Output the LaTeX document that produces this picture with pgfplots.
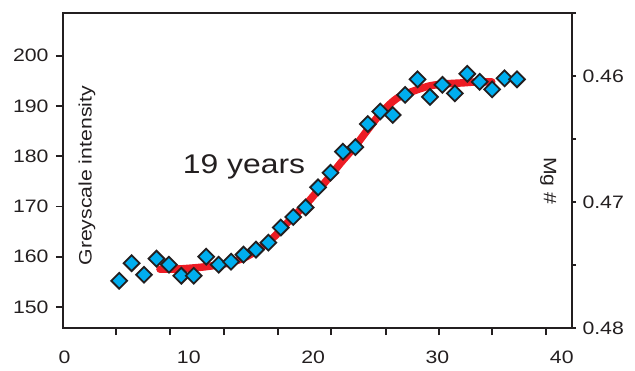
\documentclass[border=0pt]{standalone}
\usepackage{pgfplots}
\pgfplotsset{compat=1.18}
\usepackage{fontspec}
\setmainfont{Liberation Sans}[FakeStretch=1.18]
\definecolor{axcol}{HTML}{231F20}
\definecolor{dcyan}{HTML}{00AEEF}
\definecolor{dred}{HTML}{ED1C24}
\begin{document}
\begin{tikzpicture}
\useasboundingbox (-63pt,-42pt) rectangle (572pt,328pt);
\begin{axis}[
  scale only axis, width=508.7pt, height=315pt,
  xmin=-0.12, xmax=40.8, ymin=145.8, ymax=208.5,
  clip=false,
  axis line style={axcol, line width=1.8pt},
  tick style={axcol, line width=1.8pt},
  tick align=outside, major tick length=7pt,
  xtick pos=bottom, ytick pos=left,
  xtick={4.14,8.49,12.83,17.18,21.44,25.87,30.13,34.4,38.74},
  xticklabels={},
  extra x ticks={0,10,20,30,40},
  extra x tick labels={0,10,20,30,40},
  extra x tick style={major tick length=0pt},
  xticklabel style={yshift=-19pt},
  ytick={150,160,170,180,190,200},
  yticklabel style={xshift=-4pt},
  ticklabel style={font=\fontsize{18pt}{20pt}\selectfont, text=axcol},
  /pgf/number format/assume math mode=true,
]
\addplot[only marks, mark=square*, mark size=5.6pt,
  mark options={rotate=45, fill=dcyan, draw=axcol, line width=1.8pt}]
coordinates {
(4.4,155.2) (5.4,158.7) (6.4,156.4) (7.4,159.6) (8.4,158.4) (9.4,156.2)
(10.4,156.2) (11.4,160.0) (12.4,158.4) (13.4,159.0) (14.4,160.4) (15.4,161.4)
(16.4,162.8) (17.4,165.8) (18.4,167.9) (19.4,169.8) (20.4,173.8) (21.4,176.7)
(22.4,180.9) (23.4,181.8) (24.4,186.4) (25.4,188.9) (26.4,188.2)
};
\addplot[dred, line width=7.5pt, smooth, line cap=round] coordinates {
(7.68,157.5) (8.5,157.5) (9.56,157.6) (11,157.9) (12.24,158.3) (13.3,158.8)
(14.38,159.7) (15.46,161.2) (16.8,163.8) (18.14,167.3) (19.49,170.6)
(20.4,173.2) (21.36,176.0) (22.2,178.6) (22.97,180.8) (23.7,183.0)
(24.31,185.0) (25.5,188.7) (26.73,191.5) (28,192.9) (29.4,194.0)
(30.7,194.4) (32.08,194.6) (33.2,194.8) (34.37,194.8)
};
\addplot[only marks, mark=square*, mark size=5.6pt,
  mark options={rotate=45, fill=dcyan, draw=axcol, line width=1.8pt}]
coordinates {
(27.4,192.2) (28.4,195.3) (29.4,191.8) (30.4,194.2) (31.4,192.5)
(32.4,196.4) (33.4,194.8) (34.4,193.3) (35.4,195.5) (36.4,195.3)
};
\node[rotate=90, font=\fontsize{18pt}{20pt}\selectfont, text=axcol]
  at (axis cs:1.81,176.1) {Greyscale intensity};
\node[rotate=-90, font=\fontsize{18pt}{20pt}\selectfont, text=axcol]
  at (axis cs:38.9,175.1) {Mg \#};
\node[anchor=base, font=\fontsize{27pt}{30pt}\selectfont, text=axcol]
  at (axis cs:14.44,176.6) {19 years};
\end{axis}
\begin{axis}[
  scale only axis, width=508.7pt, height=315pt,
  xmin=-0.12, xmax=40.8, ymin=0.455, ymax=0.48,
  y dir=reverse,
  axis x line=none, axis y line*=right,
  axis line style={axcol, line width=1.8pt, -},
  tick style={axcol, line width=1.8pt},
  tick align=outside, major tick length=4.3pt,
  ytick={0.455,0.46,0.465,0.47,0.475,0.48},
  yticklabels={,0.46,,0.47,,0.48},
  yticklabel style={xshift=3pt},
  ticklabel style={font=\fontsize{18pt}{20pt}\selectfont, text=axcol},
]
\addplot[draw=none] coordinates {(0,0.46)};
\end{axis}
\end{tikzpicture}
\end{document}
